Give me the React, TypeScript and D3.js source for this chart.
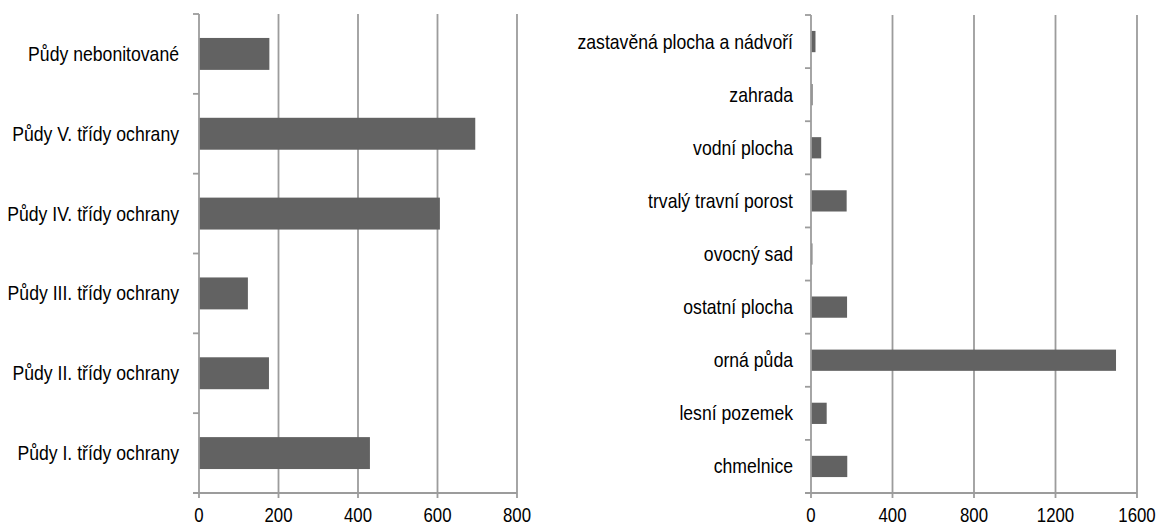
import React from "react";
import * as d3 from "d3";

const leftCategories = [
  "Půdy I. třídy ochrany",
  "Půdy II. třídy ochrany",
  "Půdy III. třídy ochrany",
  "Půdy IV. třídy ochrany",
  "Půdy V. třídy ochrany",
  "Půdy nebonitované",
];
const leftValues = [430, 176, 123, 606, 695, 177];
const leftTicks = [0, 200, 400, 600, 800];

const rightCategories = [
  "chmelnice",
  "lesní pozemek",
  "orná půda",
  "ostatní plocha",
  "ovocný sad",
  "trvalý travní porost",
  "vodní plocha",
  "zahrada",
  "zastavěná plocha a nádvoří",
];
const rightValues = [178, 77, 1497, 177, 7, 175, 50, 8, 22];
const rightTicks = [0, 400, 800, 1200, 1600];

const FONT = "'Liberation Sans', Arial, sans-serif";
const GRID = "#9c9c9c";
const BAR = "#626262";
const SX = 0.86;

type PanelProps = {
  categories: string[];
  values: number[];
  ticks: number[];
  x0: number;
  x1: number;
  yTop: number;
  yBottom: number;
  labelGap: number;
};

function Panel({ categories, values, ticks, x0, x1, yTop, yBottom, labelGap }: PanelProps) {
  const x = d3.scaleLinear().domain([ticks[0], ticks[ticks.length - 1]]).range([x0, x1]);
  const y = d3
    .scaleBand<string>()
    .domain(categories)
    .range([yBottom, yTop])
    .paddingInner(0.6)
    .paddingOuter(0.3);
  const step = (yBottom - yTop) / categories.length;
  const bounds = d3.range(categories.length + 1).map((i) => yTop + i * step);
  return (
    <g>
      {ticks.slice(1).map((t) => (
        <line key={"g" + t} x1={x(t)} x2={x(t)} y1={yTop} y2={yBottom + 5} stroke={GRID} strokeWidth={1.8} />
      ))}
      {categories.map((c, i) => (
        <rect key={c} x={x(0)} y={y(c)!} width={x(values[i]) - x(0)} height={y.bandwidth()} fill={BAR} />
      ))}
      <line x1={x0} x2={x0} y1={yTop} y2={yBottom + 5} stroke={GRID} strokeWidth={1.8} />
      <line x1={x0 - 6} x2={x1} y1={yBottom} y2={yBottom} stroke={GRID} strokeWidth={1.8} />
      {bounds.map((b, i) => (
        <line key={"b" + i} x1={x0 - 6} x2={x0} y1={b} y2={b} stroke={GRID} strokeWidth={1.8} />
      ))}
      {categories.map((c) => (
        <text
          key={"l" + c}
          transform={`translate(${x0 - labelGap},${y(c)! + y.bandwidth() / 2 + 7}) scale(${SX},1)`}
          textAnchor="end"
          fontFamily={FONT}
          fontSize={20.5}
          fill="#000"
        >
          {c}
        </text>
      ))}
      {ticks.map((t) => (
        <text
          key={"t" + t}
          transform={`translate(${x(t)},${yBottom + 28.5}) scale(0.82,1)`}
          textAnchor="middle"
          fontFamily={FONT}
          fontSize={20.5}
          fill="#000"
        >
          {t}
        </text>
      ))}
    </g>
  );
}

export default function App() {
  return (
    <svg width={1158} height={526} style={{ position: "absolute", left: 0, top: 0, background: "#fff" }}>
      <rect width={1158} height={526} fill="#fff" />
      <Panel
        categories={leftCategories}
        values={leftValues}
        ticks={leftTicks}
        x0={199}
        x1={517}
        yTop={14}
        yBottom={493}
        labelGap={20}
      />
      <Panel
        categories={rightCategories}
        values={rightValues}
        ticks={rightTicks}
        x0={811}
        x1={1137}
        yTop={15}
        yBottom={493}
        labelGap={18}
      />
    </svg>
  );
}
